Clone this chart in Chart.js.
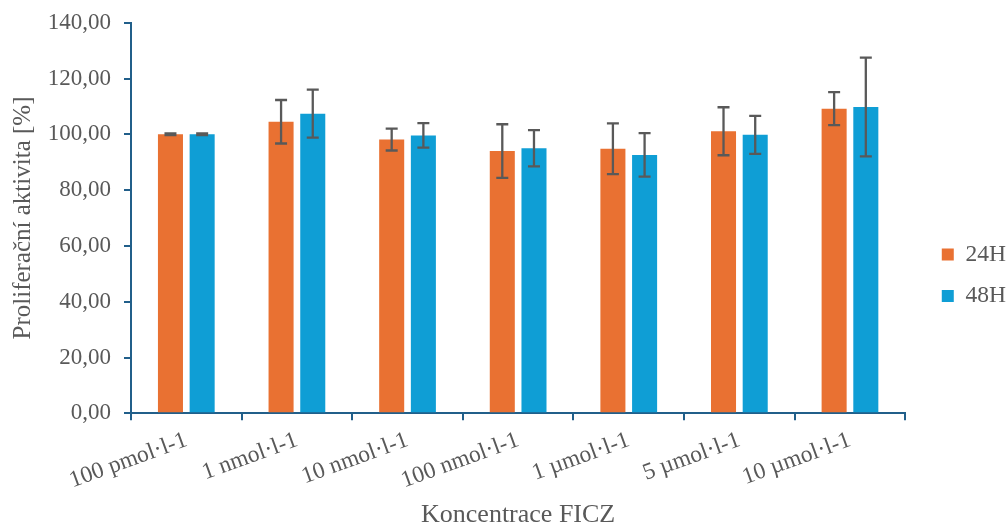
<!DOCTYPE html>
<html>
<head>
<meta charset="utf-8">
<script src="https://cdn.jsdelivr.net/npm/chart.js@4/dist/chart.umd.min.js"></script>
<style>
  body { margin: 0; background: #fff; }
  #wrap { width: 1008px; height: 528px; }
</style>
</head>
<body>
<div id="wrap"><canvas id="chart" width="1008" height="528"></canvas></div>
<script>
const categories = ["100 pmol·l-1", "1 nmol·l-1", "10 nmol·l-1", "100 nmol·l-1", "1 µmol·l-1", "5 µmol·l-1", "10 µmol·l-1"];
const values24 = [100.0, 104.5, 98.1, 94.0, 94.8, 101.1, 109.2];
const errors24 = [0.3, 7.8, 3.9, 9.6, 9.1, 8.6, 5.9];
const values48 = [100.0, 107.4, 99.6, 95.0, 92.6, 99.8, 109.8];
const errors48 = [0.3, 8.6, 4.4, 6.5, 7.8, 6.8, 17.7];
const yTicks = [0, 20, 40, 60, 80, 100, 120, 140];

const axisColor = "#215F8A";
const textColor = "#595959";
const serif = "'Liberation Serif', 'Times New Roman', serif";

// draws the error bars using the bar positions and the y scale
const errorBars = {
  id: "errorBars",
  afterDatasetsDraw(chart) {
    const ctx = chart.ctx;
    const y = chart.scales.y;
    ctx.save();
    ctx.strokeStyle = "#595959";
    ctx.lineWidth = 2.3;
    chart.data.datasets.forEach((ds, i) => {
      const meta = chart.getDatasetMeta(i);
      meta.data.forEach((bar, j) => {
        const v = ds.data[j], e = ds.errors[j];
        const top = y.getPixelForValue(v + e);
        const bot = y.getPixelForValue(v - e);
        const x = bar.x;
        ctx.beginPath();
        ctx.moveTo(x, top); ctx.lineTo(x, bot);
        ctx.moveTo(x - 6, top); ctx.lineTo(x + 6, top);
        ctx.moveTo(x - 6, bot); ctx.lineTo(x + 6, bot);
        ctx.stroke();
      });
    });
    ctx.restore();
  }
};

new Chart(document.getElementById("chart"), {
  type: "bar",
  data: {
    labels: categories,
    datasets: [
      { label: "24H", data: values24, errors: errors24, backgroundColor: "#E97132" },
      { label: "48H", data: values48, errors: errors48, backgroundColor: "#0F9ED5" }
    ]
  },
  options: {
    responsive: false,
    animation: false,
    categoryPercentage: 0.573,
    barPercentage: 0.79,
    layout: { padding: { top: 22.7, right: -8, bottom: 0, left: 0 } },
    plugins: {
      tooltip: { enabled: false },
      legend: {
        position: "right",
        labels: {
          boxWidth: 12, boxHeight: 12, padding: 18,
          color: textColor,
          font: { family: serif, size: 23.5 }
        }
      }
    },
    scales: {
      x: {
        grid: { display: true, drawOnChartArea: false, tickLength: 7, color: axisColor, lineWidth: 2 },
        border: { color: axisColor, width: 2 },
        ticks: {
          color: textColor, font: { family: serif, size: 23.5 },
          minRotation: 20, maxRotation: 20, autoSkip: false, padding: 6
        },
        title: {
          display: true, text: "Koncentrace FICZ", color: textColor,
          font: { family: serif, size: 26 }, padding: { top: 0, bottom: -3 }
        },
        afterFit(s) { s.height = 114.7; }
      },
      y: {
        min: 0, max: 140,
        grid: { display: true, drawOnChartArea: false, tickLength: 7, color: axisColor, lineWidth: 2 },
        border: { color: axisColor, width: 2 },
        afterBuildTicks(s) { s.ticks = yTicks.map(v => ({ value: v })); },
        ticks: {
          color: textColor, font: { family: serif, size: 23 }, padding: 13,
          callback: v => v.toFixed(2).replace(".", ",")
        },
        title: {
          display: true, text: "Proliferační aktivita [%]", color: textColor,
          font: { family: serif, size: 25 }, padding: { top: 8, bottom: 0 }
        },
        afterFit(s) { s.width = 131; s.paddingTop = 0; s.paddingBottom = 0; }
      },
      gap: {
        position: "right",
        display: true,
        grid: { display: false },
        border: { display: false },
        ticks: { display: false },
        afterFit(s) { s.width = 18.5; }
      }
    }
  },
  plugins: [errorBars]
});
</script>
</body>
</html>
